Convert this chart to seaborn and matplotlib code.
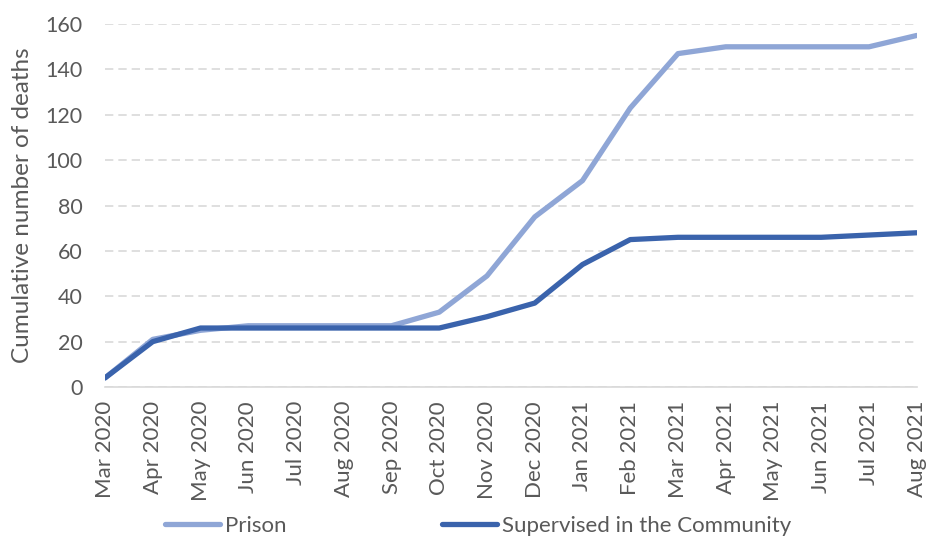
import pandas as pd
import seaborn as sns
from matplotlib import pyplot as plt

months = ["Mar 2020", "Apr 2020", "May 2020", "Jun 2020", "Jul 2020", "Aug 2020",
          "Sep 2020", "Oct 2020", "Nov 2020", "Dec 2020", "Jan 2021", "Feb 2021",
          "Mar 2021", "Apr 2021", "May 2021", "Jun 2021", "Jul 2021", "Aug 2021"]
prison = [4, 21, 25, 27, 27, 27, 27, 33, 49, 75, 91, 123, 147, 150, 150, 150, 150, 155]
community = [4, 20, 26, 26, 26, 26, 26, 26, 31, 37, 54, 65, 66, 66, 66, 66, 67, 68]
series_names = ["Prison", "Supervised in the Community"]
colors = ["#8FA6D6", "#3A63AC"]


def build_frame():
    """Long table for seaborn."""
    rows = []
    for name, vals in zip(series_names, [prison, community]):
        for i, v in enumerate(vals):
            rows.append({"pos": i, "month": months[i], "series": name, "deaths": v})
    return pd.DataFrame(rows)


def main():
    sns.set_style("white")
    plt.rcParams["font.family"] = ["Lato", "DejaVu Sans"]
    grey = "#595959"

    df = build_frame()
    fig, ax = plt.subplots(figsize=(9.26, 5.36), dpi=100)
    fig.subplots_adjust(left=0.1134, right=0.990, top=0.955, bottom=0.278)

    sns.lineplot(data=df, x="pos", y="deaths", hue="series", palette=colors,
                 hue_order=series_names, linewidth=3.8, legend=False, ax=ax)

    ax.set_xlim(0, len(months) - 1)
    ax.set_ylim(0, 160)
    ax.set_yticks(range(0, 161, 20))
    ax.set_xticks(range(len(months)))
    ax.set_xticklabels(months, rotation=90)
    ax.tick_params(axis="x", labelsize=16, colors=grey, length=0, pad=10)
    ax.tick_params(axis="y", labelsize=15.5, colors=grey, length=0, pad=16)

    ax.yaxis.grid(True, color="#D9D9D9", linestyle=(0, (5, 3)), linewidth=1.2)
    ax.set_axisbelow(True)
    for side in ["top", "right", "left"]:
        ax.spines[side].set_visible(False)
    ax.spines["bottom"].set_color("#D9D9D9")
    ax.spines["bottom"].set_linewidth(1.2)

    ax.set_xlabel("")
    ax.set_ylabel("Cumulative number of deaths", fontsize=17.5, color=grey, labelpad=9)

    handles = [plt.Line2D([], [], color=c, linewidth=3.8, solid_capstyle="round") for c in colors]
    fig.legend(handles, series_names, loc="lower left", bbox_to_anchor=(0.166, -0.02),
               ncol=2, frameon=False, fontsize=16, handlelength=2.5, handletextpad=0.2,
               columnspacing=7.0, labelcolor=grey, borderpad=0)

    plt.savefig("out.png", dpi=100)
    plt.close()


if __name__ == "__main__":
    main()
